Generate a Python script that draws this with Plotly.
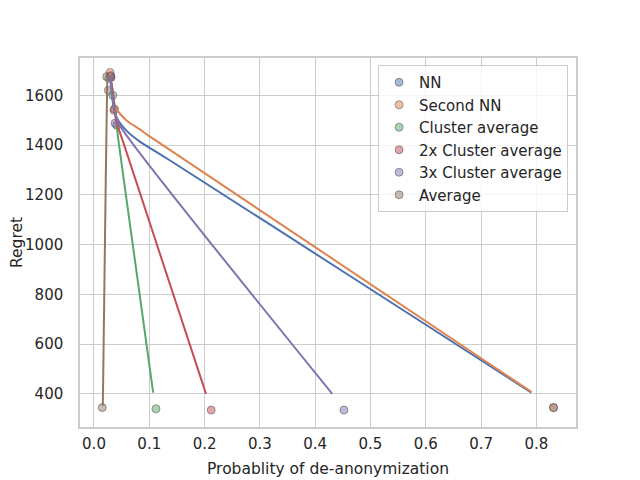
import plotly.graph_objects as go

# Observed points (probability of de-anonymization, regret) per method
names = ["NN", "Second NN", "Cluster average", "2x Cluster average",
         "3x Cluster average", "Average"]
colors = ["#4C72B0", "#DD8452", "#55A868", "#C44E52", "#8172B3", "#937860"]

prob_nn = [0.030, 0.041, 0.831]
regret_nn = [1680, 1480, 345]
prob_snn = [0.029, 0.036, 0.831]
regret_snn = [1692, 1540, 345]
prob_c1 = [0.027, 0.034, 0.112]
regret_c1 = [1668, 1600, 340]
prob_c2 = [0.031, 0.037, 0.212]
regret_c2 = [1672, 1545, 335]
prob_c3 = [0.030, 0.038, 0.452]
regret_c3 = [1676, 1488, 335]
prob_avg = [0.023, 0.026, 0.015]
regret_avg = [1675, 1620, 345]

# Fitted curves
fit_nn_x = [0.029, 0.035, 0.042, 0.060, 0.083, 0.132, 0.463, 0.791]
fit_nn_y = [1678, 1560, 1506, 1455, 1414, 1346, 874, 405]
fit_snn_x = [0.029, 0.033, 0.040, 0.059, 0.083, 0.100, 0.791]
fit_snn_y = [1690, 1610, 1548, 1499, 1463, 1436, 408]
fit_c1_x = [0.029, 0.034, 0.0445, 0.107]
fit_c1_y = [1680, 1614, 1413, 405]
fit_c2_x = [0.029, 0.033, 0.040, 0.0527, 0.2026]
fit_c2_y = [1680, 1630, 1500, 1413, 400]
fit_c3_x = [0.029, 0.034, 0.040, 0.0472, 0.431]
fit_c3_y = [1678, 1585, 1515, 1477, 400]
fit_avg_x = [0.024, 0.0213, 0.016]
fit_avg_y = [1666, 1264, 352]

points = [(prob_nn, regret_nn), (prob_snn, regret_snn), (prob_c1, regret_c1),
          (prob_c2, regret_c2), (prob_c3, regret_c3), (prob_avg, regret_avg)]
fits = [(fit_nn_x, fit_nn_y), (fit_snn_x, fit_snn_y), (fit_c1_x, fit_c1_y),
        (fit_c2_x, fit_c2_y), (fit_c3_x, fit_c3_y), (fit_avg_x, fit_avg_y)]


def rgba(hex_color, a):
    h = hex_color.lstrip("#")
    r, g, b = int(h[0:2], 16), int(h[2:4], 16), int(h[4:6], 16)
    return f"rgba({r},{g},{b},{a})"


fig = go.Figure()

for name, color, (px_, py_) in zip(names, colors, points):
    fig.add_trace(go.Scatter(
        x=px_, y=py_, mode="markers", name=name,
        marker=dict(size=8, color=rgba(color, 0.5),
                    line=dict(color="rgba(70,70,70,0.5)", width=1)),
    ))

for color, (fx, fy) in zip(colors, fits):
    fig.add_trace(go.Scatter(
        x=fx, y=fy, mode="lines", showlegend=False,
        line=dict(color=color, width=2, shape="spline", smoothing=0.8),
    ))

axis_style = dict(
    showgrid=True, gridcolor="#cccccc", gridwidth=1,
    showline=True, linecolor="#cccccc", linewidth=1.5, mirror=True,
    zeroline=False, ticks="", tickfont=dict(size=15, color="#262626"),
    automargin=False,
)

fig.update_xaxes(
    range=[-0.0253, 0.8717], dtick=0.1, tick0=0, tickformat=".1f",
    ticklabelstandoff=2,
    title=dict(text="Probablity of de-anonymization",
               font=dict(size=15.5, color="#262626"), standoff=11),
    **axis_style,
)
fig.update_yaxes(
    range=[267, 1750], dtick=200, tick0=0, ticklabelstandoff=12,
    title=dict(text="Regret", font=dict(size=15.5, color="#262626"), standoff=4),
    **axis_style,
)

# page body adds 8px offset, so margins are shifted to compensate
fig.update_layout(
    width=640, height=480,
    margin=dict(l=72, r=72, t=50, b=61),
    plot_bgcolor="white", paper_bgcolor="white",
    font=dict(family="DejaVu Sans", color="#262626"),
    legend=dict(
        x=0.984, y=0.981, xanchor="right", yanchor="top",
        bgcolor="rgba(255,255,255,0.8)", bordercolor="#cccccc", borderwidth=1,
        font=dict(size=15, color="#262626"), tracegroupgap=0,
    ),
)

fig.write_html("out.html")
